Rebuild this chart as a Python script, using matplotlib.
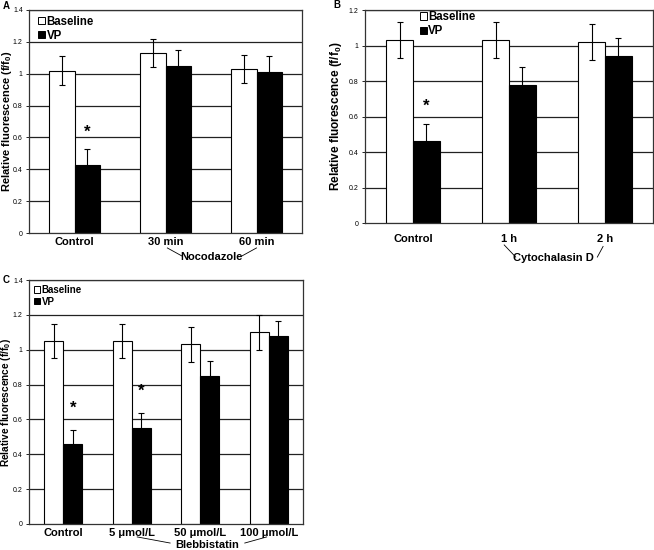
import numpy as np
import matplotlib
matplotlib.use("Agg")
import matplotlib.pyplot as plt
from matplotlib.patches import Patch
from matplotlib.transforms import blended_transform_factory

plt.rcParams["font.family"] = ["Liberation Sans", "DejaVu Sans"]
plt.rcParams["mathtext.fontset"] = "custom"
plt.rcParams["mathtext.rm"] = "Liberation Sans"
plt.rcParams["mathtext.bf"] = "Liberation Sans:bold"
plt.rcParams["mathtext.it"] = "Liberation Sans:italic"

# ==============================
# DATA
# ==============================

groups_a = ["Control", "30 min", "60 min"]
base_a = [1.02, 1.13, 1.03]
base_a_err = [0.09, 0.09, 0.09]
vp_a = [0.43, 1.05, 1.01]
vp_a_err = [0.10, 0.10, 0.10]
sig_a = [True, False, False]

groups_b = ["Control", "1 h", "2 h"]
base_b = [1.03, 1.03, 1.02]
base_b_err = [0.10, 0.10, 0.10]
vp_b = [0.46, 0.78, 0.94]
vp_b_err = [0.10, 0.10, 0.10]
sig_b = [True, False, False]

groups_c = ["Control", "5 \u03bcmol/L", "50 \u03bcmol/L", "100 \u03bcmol/L"]
base_c = [1.05, 1.05, 1.03, 1.10]
base_c_err = [0.10, 0.10, 0.10, 0.10]
vp_c = [0.46, 0.55, 0.85, 1.08]
vp_c_err = [0.08, 0.085, 0.085, 0.085]
sig_c = [True, True, False, False]

W, H = 654, 550
fig = plt.figure(figsize=(W / 100, H / 100), dpi=100)


def px_axes(left, top, right, bottom):
    return fig.add_axes([left / W, 1 - bottom / H, (right - left) / W, (bottom - top) / H])


def draw_panel(ax, groups, base, base_err, vp, vp_err, sig, ymax, star_off,
               treat, bracket, text_y, label_pad, ylab_x, ylab_fs,
               legend_xy, legend_fs):
    x = np.arange(len(groups))
    w = 0.28
    for y in np.arange(0.2, ymax + 0.01, 0.2):
        ax.axhline(y, color="#222222", lw=0.9, zorder=1)
    ax.bar(x - w / 2, base, w, yerr=base_err, color="white", edgecolor="black",
           lw=0.8, error_kw=dict(ecolor="black", elinewidth=0.8, capsize=2, capthick=0.8),
           zorder=2, label="Baseline")
    ax.bar(x + w / 2, vp, w, yerr=vp_err, color="black", edgecolor="black",
           lw=0.8, error_kw=dict(ecolor="black", elinewidth=0.8, capsize=2, capthick=0.8),
           zorder=2, label="VP")
    for i in range(len(groups)):
        if sig[i]:
            ax.text(x[i] + w / 2, vp[i] + vp_err[i] + star_off, "*", ha="center",
                    va="center", fontsize=12, fontweight="bold")

    ax.set_xlim(-0.5, len(groups) - 0.5)
    ax.set_ylim(0, ymax)
    ax.set_yticks(np.arange(0, ymax + 0.01, 0.2))
    ax.set_yticklabels([f"{v:g}" for v in np.arange(0, ymax + 0.01, 0.2)])
    ax.set_xticks(x)
    ax.set_xticklabels(groups, fontsize=8, fontweight="bold")
    ax.tick_params(axis="y", labelsize=5, length=2.5, width=0.6, pad=2)
    ax.tick_params(axis="x", length=0, pad=label_pad)
    for s in ax.spines.values():
        s.set_color("#333333")
        s.set_linewidth(0.9)
    ax.set_ylabel("Relative fluorescence (f/f$_\\mathbf{0}$)", fontsize=ylab_fs,
                  fontweight="bold", va="center")
    ax.yaxis.set_label_coords(ylab_x, 0.5)

    handles = [Patch(facecolor="white", edgecolor="black", lw=0.7, label="Baseline"),
               Patch(facecolor="black", edgecolor="black", lw=0.7, label="VP")]
    ax.legend(handles=handles, loc="upper left", bbox_to_anchor=legend_xy,
              frameon=False, handlelength=0.6, handleheight=0.6,
              handletextpad=0.15, labelspacing=0.2, borderaxespad=0,
              borderpad=0, prop=dict(size=legend_fs, weight="bold"))

    # treatment label with connector lines
    tr = blended_transform_factory(ax.transData, ax.transAxes)
    (lx0, ly0, lx1, ly1), (rx0, ry0, rx1, ry1), tx = bracket
    ax.plot([lx0, lx1], [ly0, ly1], color="black", lw=0.6, transform=tr, clip_on=False)
    ax.plot([rx0, rx1], [ry0, ry1], color="black", lw=0.6, transform=tr, clip_on=False)
    ax.text(tx, text_y, treat, transform=tr, ha="center", va="center",
            fontsize=8, fontweight="bold")


# ==============================
# A. NOCODAZOLE
# ==============================
ax_a = px_axes(29, 10, 302, 233)
draw_panel(ax_a, groups_a, base_a, base_a_err, vp_a, vp_a_err, sig_a, 1.4, 0.10,
           "Nocodazole",
           ((1.02, -0.067, 1.18, -0.103), (1.84, -0.103, 2.0, -0.067), 1.51),
           -0.108, 3, -0.082, 8, (0.033, 0.975), 8.3)

# ==============================
# B. CYTOCHALASIN D
# ==============================
ax_b = px_axes(365, 10, 653, 223)
draw_panel(ax_b, groups_b, base_b, base_b_err, vp_b, vp_b_err, sig_b, 1.2, 0.095,
           "Cytochalasin D",
           ((0.95, -0.103, 1.07, -0.16), (1.92, -0.16, 1.98, -0.11), 1.46),
           -0.164, 8, -0.1, 8.5, (0.19, 0.995), 8.3)

# ==============================
# C. BLEBBISTATIN
# ==============================
ax_c = px_axes(29, 280, 303, 524)
draw_panel(ax_c, groups_c, base_c, base_c_err, vp_c, vp_c_err, sig_c, 1.4, 0.125,
           "Blebbistatin",
           ((1.08, -0.053, 1.56, -0.078), (2.65, -0.078, 2.97, -0.053), 2.1),
           -0.088, 3, -0.084, 7.3, (0.02, 0.98), 7)

for letter, (lx, ly) in zip("ABC", [(3, 6), (333, 5), (3, 280)]):
    fig.text(lx / W, 1 - ly / H, letter, fontsize=7, fontweight="bold",
             ha="left", va="center")

fig.savefig("out.png", dpi=100)
plt.close(fig)
